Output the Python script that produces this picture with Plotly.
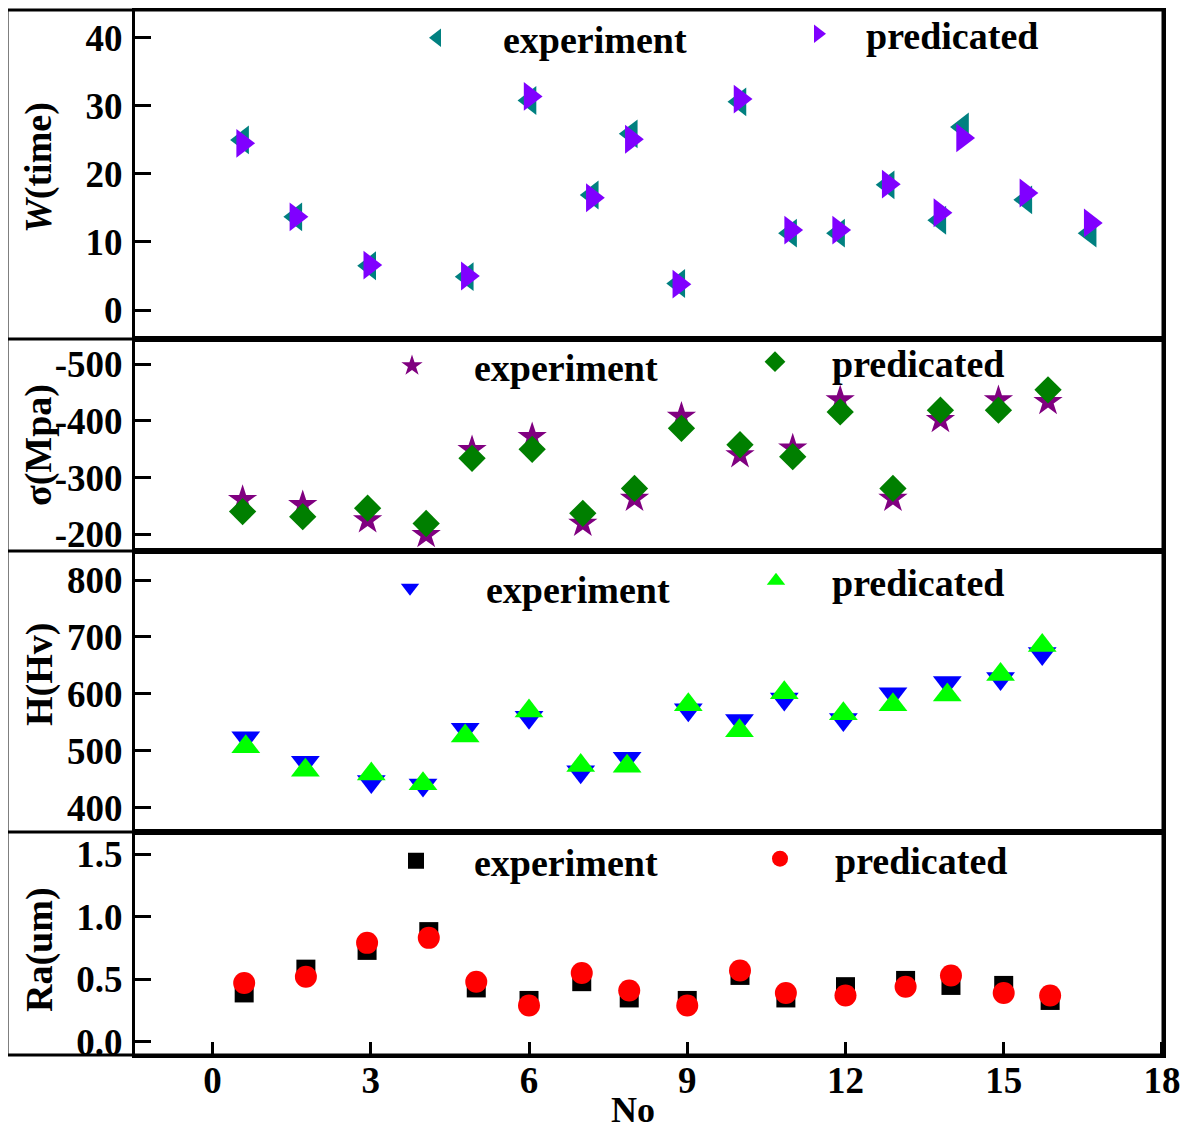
import plotly.graph_objects as go
from plotly.subplots import make_subplots

# ---------------- data ----------------
# Panel 1: W (time)
x_w = [0.57, 1.58, 2.98, 4.83, 6.02, 7.2, 7.94, 8.84, 10.0, 10.96, 11.87, 12.81, 13.79, 14.22, 15.42, 16.64]
w_exp = [25.0, 13.7, 6.5, 4.9, 30.8, 16.9, 25.9, 3.9, 30.6, 11.3, 11.3, 18.4, 13.2, 26.9, 16.2, 11.3]
w_pred = [24.5, 13.7, 6.6, 5.0, 31.4, 16.5, 25.1, 3.8, 31.0, 11.75, 11.75, 18.5, 14.3, 25.3, 17.2, 12.8]

# Panel 2: sigma (MPa)
x_s = [0.57, 1.71, 2.94, 4.05, 4.92, 6.06, 7.02, 8.0, 8.89, 10.0, 11.0, 11.9, 12.9, 13.8, 14.9, 15.84]
s_exp = [-261, -252, -225, -199, -349, -372, -219, -263, -408, -340, -352, -437, -263, -402, -437, -434]
s_pred = [-240, -231, -246, -219, -334, -350, -237, -281, -387, -358, -337, -416, -281, -419, -419, -455]

# Panel 3: H (Hv)
x_h = [0.63, 1.76, 3.01, 3.99, 4.79, 6.0, 6.98, 7.86, 9.02, 9.99, 10.84, 11.96, 12.9, 13.93, 14.94, 15.73]
h_exp = [523, 480, 446, 440, 538, 559, 463, 487, 572, 553, 591, 555, 600, 620, 627, 671]
h_pred = [507, 466, 459, 442, 526, 570, 474, 473, 581, 535, 602, 565, 581, 598, 634, 685]

# Panel 4: Ra (um)
x_r = [0.6, 1.77, 2.93, 4.1, 5.0, 6.0, 7.0, 7.9, 9.0, 10.0, 10.87, 12.0, 13.14, 14.0, 15.0, 15.88]
ra_exp = [0.39, 0.58, 0.73, 0.88, 0.43, 0.33, 0.48, 0.35, 0.33, 0.53, 0.35, 0.44, 0.49, 0.45, 0.45, 0.33]
ra_pred = [0.47, 0.52, 0.79, 0.83, 0.48, 0.29, 0.55, 0.41, 0.29, 0.57, 0.39, 0.37, 0.44, 0.53, 0.39, 0.37]

x_ticks = [0, 3, 6, 9, 12, 15, 18]
w_ticks = [0, 10, 20, 30, 40]
w_tick_text = ["0", "10", "20", "30", "40"]
s_ticks = [-500, -400, -300, -200]
s_tick_text = ["-500", "-400", "-300", "-200"]
h_ticks = [400, 500, 600, 700, 800]
h_tick_text = ["400", "500", "600", "700", "800"]
r_ticks = [0.0, 0.5, 1.0, 1.5]
r_tick_text = ["0.0", "0.5", "1.0", "1.5"]

y_titles = ["<i>W</i>(time)", "σ(Mpa)", "H(Hv)", "Ra(um)"]
x_title = "No"
names = ["experiment", "predicated"]

# ---------------- layout constants ----------------
OFF = 8  # page body margin
W, H = 1189 - 2 * OFF, 1140 - 2 * OFF
ML = 135 - OFF
MT = 10 - OFF
MR = W - (1163 - OFF)
MB = H - (1055 - OFF)
PW = W - ML - MR
PH = H - MT - MB
panel_px = [329, 212, 281, 223]  # top to bottom
FONT = "Liberation Serif"
FS = 37

fig = make_subplots(rows=4, cols=1, shared_xaxes=True, vertical_spacing=0,
                    row_heights=[p / PH for p in panel_px])

def px_x(px):
    return (px - OFF - ML) / PW

def px_y(py):
    return (H - MB - (py - OFF)) / PH

series = [
    (1, x_w, w_exp, w_pred, ("triangle-left", "#008080", 25), ("triangle-right", "#8000FF", 25)),
    (2, x_s, s_exp, s_pred, ("star", "#800080", 22), ("diamond", "#007F00", 21)),
    (3, x_h, h_exp, h_pred, ("triangle-down", "#0000FF", 25), ("triangle-up", "#00FF00", 25)),
    (4, x_r, ra_exp, ra_pred, ("square", "#000000", 19), ("circle", "#FF0000", 22)),
]

# legend placements: (symbol centre px x, text start px x, centre px y) in reference pixels
leg_pos = [
    (437, 503, 38), (818, 866, 34),
    (412, 474, 366), (775, 832, 362),
    (410, 486, 588), (776, 832, 581),
    (416, 474, 861), (780, 835, 859),
]

legend_layouts = {}
k = 0
for row, xs, ye, yp, me, mp in series:
    for j, (yy, m) in enumerate([(ye, me), (yp, mp)]):
        lname = "legend" if k == 0 else f"legend{k + 1}"
        fig.add_trace(go.Scatter(
            x=xs, y=yy, mode="markers", name=names[j], legend=lname, showlegend=True,
            marker=dict(symbol=m[0], color=m[1], size=m[2], line=dict(width=0)),
        ), row=row, col=1)
        sx, tx, cy = leg_pos[k]
        gap = tx - sx
        legend_layouts[lname] = dict(
            x=px_x(sx - gap), y=px_y(cy), xanchor="left", yanchor="middle",
            xref="paper", yref="paper", visible=True,
            itemwidth=max(30, 2 * gap - 10),
            bgcolor="rgba(0,0,0,0)", borderwidth=0,
            font=dict(family=FONT, size=38, color="black", weight="bold"),
        )
        k += 1

fig.update_layout(showlegend=True, **legend_layouts)

axis_font = dict(family=FONT, size=FS, color="black", weight="bold")
title_font = dict(family=FONT, size=38, color="black", weight="bold")

# x axes
for r in range(1, 5):
    fig.update_xaxes(row=r, col=1, range=[-1.47, 18.02], showgrid=False, zeroline=False,
                     showline=True, linecolor="black", linewidth=3, mirror=True,
                     tickvals=x_ticks, ticks="inside" if r == 4 else "", ticklen=13,
                     tickwidth=3, tickcolor="black", showticklabels=(r == 4),
                     tickfont=axis_font, automargin=False)
fig.update_xaxes(row=4, col=1, ticklabelstandoff=-9)

y_ranges = [[-4.26, 44.1], [-170.5, -544.6], [357.3, 851], [-0.106, 1.676]]
y_tickvals = [w_ticks, s_ticks, h_ticks, r_ticks]
y_ticktext = [w_tick_text, s_tick_text, h_tick_text, r_tick_text]
for r in range(1, 5):
    fig.update_yaxes(row=r, col=1, range=y_ranges[r - 1], showgrid=False, zeroline=False,
                     showline=True, linecolor="black", linewidth=3, mirror=True,
                     tickvals=y_tickvals[r - 1], ticktext=y_ticktext[r - 1],
                     ticks="inside", ticklen=16, tickwidth=3, tickcolor="black",
                     tickfont=axis_font, ticklabelstandoff=2, automargin=False)

# y-axis titles as rotated annotations in the left column
title_y = [168, 445, 675, 950]
for t, ty in zip(y_titles, title_y):
    fig.add_annotation(text=t, xref="paper", yref="paper", x=px_x(39), y=px_y(ty),
                       xanchor="center", yanchor="middle", textangle=-90, showarrow=False,
                       font=title_font)

# x-axis title
fig.add_annotation(text=x_title, xref="paper", yref="paper", x=px_x(633), y=px_y(1110),
                   xanchor="center", yanchor="middle", showarrow=False,
                   font=dict(family=FONT, size=36, color="black", weight="bold"))

# outer frame including the label column and the panel dividers
left = px_x(7)
fig.add_shape(type="rect", xref="paper", yref="paper", x0=left, x1=1, y0=0, y1=1,
              line=dict(color="black", width=3))
acc = 0
for p in panel_px[:-1]:
    acc += p
    yy = 1 - acc / PH
    fig.add_shape(type="line", xref="paper", yref="paper", x0=left, x1=1, y0=yy, y1=yy,
                  line=dict(color="black", width=3))

fig.update_layout(width=W, height=H, margin=dict(l=ML, r=MR, t=MT, b=MB, autoexpand=False),
                  plot_bgcolor="white", paper_bgcolor="white",
                  font=dict(family=FONT, color="black"))

fig.write_html("out.html")
